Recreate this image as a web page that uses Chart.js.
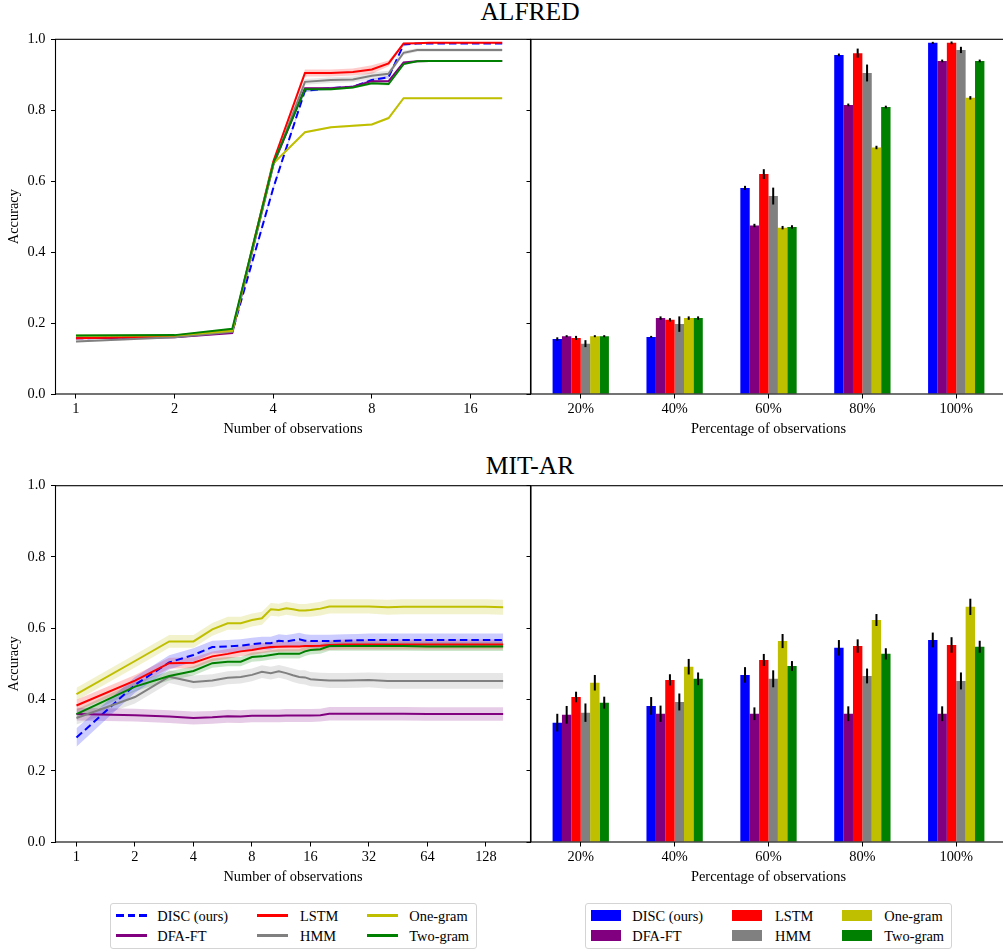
<!DOCTYPE html>
<html><head><meta charset="utf-8">
<script src="https://cdn.jsdelivr.net/npm/chart.js@4"></script>
<style>
html,body{margin:0;padding:0;background:#fff;overflow:hidden}
#wrap{position:relative;width:1003px;height:951px;overflow:hidden;font-family:'Liberation Serif','Times New Roman',serif;color:#000;background:#fff}
canvas{position:absolute}
.title{position:absolute;width:400px;left:330px;text-align:center;font-size:25.5px;line-height:1;white-space:nowrap}
.legend{position:absolute;top:903px;width:367px;height:46px;border:1px solid #d4d4d4;border-radius:3px;box-sizing:border-box;background:#fff}
.lt{position:absolute;font-size:14.4px;line-height:16px;white-space:nowrap}
</style>
</head><body>
<div id="wrap">
  <div class="title" style="top:-1.4px">ALFRED</div>
  <div class="title" style="top:452.9px">MIT-AR</div>
  <canvas id="c1" width="531" height="445" style="left:0;top:0"></canvas>
  <canvas id="c2" width="540" height="445" style="left:470px;top:0"></canvas>
  <canvas id="c3" width="531" height="447" style="left:0;top:446px"></canvas>
  <canvas id="c4" width="540" height="447" style="left:470px;top:446px"></canvas>
  <div class="legend" id="leg1" style="left:110px"></div>
  <div class="legend" id="leg2" style="left:585px"></div>
</div>
<script>
// ---------------- data ----------------
const seriesNames = ['DISC (ours)', 'DFA-FT', 'LSTM', 'HMM', 'One-gram', 'Two-gram'];
const seriesColors = ['#0000ff', '#800080', '#ff0000', '#808080', '#bfbf00', '#008000'];
const yTickValues = [0, 0.2, 0.4, 0.6, 0.8, 1.0];
const pctLabels = ['20%', '40%', '60%', '80%', '100%'];

// ALFRED: accuracy vs number of observations
const alfredX = [1,2,3,4,5,6,7,8,9,10,11,12,13,14,15,16,17,18,19,20];
const alfredXTicks = [1, 2, 4, 8, 16];
const alfredDisc = [0.157,0.161,0.175,0.580,0.855,0.862,0.866,0.885,0.893,0.985,0.988,0.988,0.988,0.988,0.988,0.988,0.988,0.988,0.988,0.988];
const alfredDfa  = [0.157,0.160,0.172,0.645,0.862,0.862,0.866,0.882,0.882,0.935,0.938,0.939,0.939,0.939,0.939,0.939,0.939,0.939,0.939,0.939];
const alfredLstm = [0.157,0.163,0.178,0.655,0.905,0.905,0.908,0.915,0.932,0.988,0.989,0.990,0.990,0.990,0.990,0.990,0.990,0.990,0.990,0.990];
const alfredHmm  = [0.148,0.160,0.175,0.645,0.880,0.885,0.887,0.897,0.903,0.962,0.970,0.970,0.970,0.970,0.970,0.970,0.970,0.970,0.970,0.970];
const alfredOne  = [0.164,0.165,0.178,0.650,0.738,0.752,0.756,0.760,0.778,0.834,0.834,0.834,0.834,0.834,0.834,0.834,0.834,0.834,0.834,0.834];
const alfredTwo  = [0.165,0.166,0.184,0.650,0.859,0.859,0.864,0.876,0.874,0.930,0.938,0.939,0.939,0.939,0.939,0.939,0.939,0.939,0.939,0.939];
const alfredDiscStd = [0.002,0.002,0.002,0.006,0.004,0.004,0.004,0.004,0.004,0.002,0.001,0.001,0.001,0.001,0.001,0.001,0.001,0.001,0.001,0.001];
const alfredDfaStd  = [0.002,0.002,0.002,0.004,0.003,0.003,0.003,0.003,0.003,0.002,0.001,0.001,0.001,0.001,0.001,0.001,0.001,0.001,0.001,0.001];
const alfredLstmStd = [0.002,0.002,0.002,0.006,0.010,0.010,0.010,0.012,0.008,0.002,0.001,0.001,0.001,0.001,0.001,0.001,0.001,0.001,0.001,0.001];
const alfredHmmStd  = [0.003,0.003,0.003,0.006,0.008,0.008,0.008,0.010,0.008,0.006,0.005,0.005,0.005,0.005,0.005,0.005,0.005,0.005,0.005,0.005];
const alfredOneStd  = [0.002,0.002,0.002,0.004,0.003,0.003,0.003,0.003,0.003,0.002,0.001,0.001,0.001,0.001,0.001,0.001,0.001,0.001,0.001,0.001];
const alfredTwoStd  = [0.002,0.002,0.002,0.004,0.003,0.003,0.003,0.004,0.004,0.002,0.001,0.001,0.001,0.001,0.001,0.001,0.001,0.001,0.001,0.001];

// MIT-AR: accuracy vs number of observations
const mitX = [1,2,3,4,5,6,7,8,9,10,11,12,13,14,15,16,18,20,24,28,32,40,48,64,96,128,157];
const mitXTicks = [1, 2, 4, 8, 16, 32, 64, 128];
const mitDisc = [0.293,0.441,0.504,0.525,0.547,0.549,0.551,0.555,0.558,0.558,0.565,0.563,0.566,0.569,0.565,0.564,0.564,0.564,0.565,0.566,0.567,0.567,0.567,0.567,0.567,0.567,0.567];
const mitDfa  = [0.359,0.356,0.352,0.348,0.350,0.353,0.352,0.354,0.354,0.354,0.354,0.355,0.355,0.355,0.355,0.355,0.356,0.360,0.360,0.360,0.360,0.360,0.360,0.359,0.359,0.359,0.359];
const mitLstm = [0.383,0.453,0.502,0.503,0.521,0.528,0.535,0.539,0.544,0.547,0.548,0.549,0.549,0.549,0.550,0.550,0.551,0.553,0.554,0.554,0.554,0.554,0.554,0.554,0.554,0.554,0.554];
const mitHmm  = [0.348,0.407,0.464,0.449,0.453,0.461,0.463,0.469,0.478,0.474,0.479,0.474,0.468,0.463,0.462,0.457,0.455,0.453,0.453,0.454,0.455,0.452,0.452,0.452,0.452,0.452,0.452];
const mitOne  = [0.415,0.508,0.563,0.563,0.597,0.614,0.614,0.623,0.628,0.653,0.651,0.656,0.653,0.650,0.650,0.651,0.655,0.661,0.661,0.661,0.661,0.659,0.660,0.660,0.660,0.660,0.659];
const mitTwo  = [0.359,0.436,0.466,0.480,0.502,0.506,0.506,0.519,0.521,0.525,0.528,0.528,0.528,0.528,0.535,0.539,0.541,0.550,0.550,0.550,0.550,0.550,0.550,0.549,0.549,0.549,0.549];
const mitDiscStd = [0.026,0.022,0.020,0.019,0.018,0.018,0.018,0.018,0.018,0.018,0.018,0.018,0.018,0.018,0.018,0.018,0.018,0.018,0.018,0.018,0.018,0.018,0.018,0.018,0.018,0.018,0.018];
const mitDfaStd  = [0.018,0.018,0.018,0.018,0.018,0.018,0.018,0.018,0.018,0.018,0.018,0.018,0.018,0.018,0.018,0.018,0.018,0.019,0.019,0.019,0.019,0.019,0.019,0.019,0.019,0.019,0.019];
const mitLstmStd = [0.016,0.016,0.015,0.015,0.014,0.014,0.014,0.014,0.014,0.014,0.014,0.014,0.014,0.014,0.014,0.014,0.014,0.014,0.014,0.014,0.014,0.014,0.014,0.014,0.014,0.014,0.014];
const mitHmmStd  = [0.018,0.018,0.018,0.018,0.018,0.018,0.018,0.018,0.018,0.018,0.018,0.018,0.019,0.019,0.020,0.020,0.020,0.021,0.021,0.021,0.021,0.022,0.022,0.022,0.022,0.022,0.022];
const mitOneStd  = [0.018,0.018,0.018,0.018,0.018,0.018,0.018,0.018,0.018,0.018,0.018,0.018,0.018,0.018,0.018,0.019,0.019,0.020,0.020,0.020,0.020,0.021,0.021,0.021,0.021,0.021,0.021];
const mitTwoStd  = [0.013,0.013,0.013,0.013,0.013,0.013,0.013,0.013,0.013,0.013,0.013,0.013,0.013,0.013,0.013,0.013,0.013,0.013,0.013,0.013,0.013,0.013,0.013,0.013,0.013,0.013,0.013];

// Bar charts: accuracy vs percentage of observations (positions 0..4 = 20%..100%)
const pctX = [0, 1, 2, 3, 4];
const alfredBarDisc = [0.155, 0.161, 0.581, 0.956, 0.990];
const alfredBarDfa  = [0.163, 0.214, 0.475, 0.815, 0.939];
const alfredBarLstm = [0.158, 0.209, 0.620, 0.961, 0.990];
const alfredBarHmm  = [0.142, 0.197, 0.558, 0.905, 0.970];
const alfredBarOne  = [0.163, 0.214, 0.469, 0.695, 0.835];
const alfredBarTwo  = [0.163, 0.214, 0.471, 0.809, 0.939];
const alfredErrDisc = [0.002, 0.000, 0.003, 0.001, 0.000];
const alfredErrDfa  = [0.000, 0.002, 0.002, 0.001, 0.001];
const alfredErrLstm = [0.003, 0.002, 0.011, 0.010, 0.001];
const alfredErrHmm  = [0.007, 0.019, 0.021, 0.021, 0.006];
const alfredErrOne  = [0.000, 0.002, 0.002, 0.002, 0.002];
const alfredErrTwo  = [0.000, 0.002, 0.002, 0.001, 0.001];

const mitBarDisc = [0.335, 0.382, 0.469, 0.545, 0.567];
const mitBarDfa  = [0.357, 0.360, 0.360, 0.360, 0.360];
const mitBarLstm = [0.407, 0.455, 0.511, 0.550, 0.553];
const mitBarHmm  = [0.363, 0.393, 0.458, 0.466, 0.452];
const mitBarOne  = [0.447, 0.492, 0.564, 0.623, 0.660];
const mitBarTwo  = [0.391, 0.458, 0.494, 0.528, 0.548];
const mitErrDisc = [0.022, 0.022, 0.019, 0.019, 0.018];
const mitErrDfa  = [0.022, 0.020, 0.015, 0.018, 0.018];
const mitErrLstm = [0.012, 0.013, 0.014, 0.016, 0.019];
const mitErrHmm  = [0.023, 0.021, 0.021, 0.018, 0.021];
const mitErrOne  = [0.019, 0.019, 0.017, 0.014, 0.020];
const mitErrTwo  = [0.014, 0.015, 0.011, 0.013, 0.014];

// ---------------- rendering ----------------
Chart.defaults.font.family = "'Liberation Serif', 'Times New Roman', serif";
Chart.defaults.font.size = 14.4;
Chart.defaults.color = '#000';

function rgba(hex, a) {
  const n = parseInt(hex.slice(1), 16);
  return `rgba(${(n >> 16) & 255},${(n >> 8) & 255},${n & 255},${a})`;
}

const framePlugin = {
  id: 'frame',
  afterDatasetsDraw(chart) {
    const {ctx, chartArea: a} = chart;
    ctx.save();
    ctx.strokeStyle = '#000';
    ctx.lineWidth = 1.1;
    ctx.strokeRect(a.left, a.top, a.right - a.left, a.bottom - a.top);
    ctx.restore();
  }
};

function yScale(showLabels, axisWidth) {
  return {
    type: 'linear', min: 0, max: 1,
    afterBuildTicks: ax => { ax.ticks = yTickValues.map(v => ({value: v})); },
    afterFit: ax => { ax.width = axisWidth; },
    ticks: {display: showLabels, callback: v => Number(v).toFixed(1), padding: 5.5, color: '#000'},
    grid: {display: true, drawOnChartArea: false, drawTicks: true, tickLength: 4.5, color: '#000', tickWidth: 1},
    border: {display: false},
    title: {display: showLabels, text: 'Accuracy', color: '#000', padding: {top: 5.3, bottom: 0}}
  };
}

function xTitle(text) {
  return {display: true, text, color: '#000', padding: {top: 0, bottom: 7.3}};
}

function lineChart(id, xs, means, stds, xTicks, xMin, xMax, padTop) {
  const datasets = [];
  means.forEach((m, i) => {
    const s = stds[i];
    datasets.push({data: xs.map((x, k) => ({x, y: m[k] + s[k]})), borderWidth: 0, pointRadius: 0,
      fill: false, order: 100 + i, backgroundColor: rgba(seriesColors[i], 0.2), borderColor: 'transparent'});
    datasets.push({data: xs.map((x, k) => ({x, y: m[k] - s[k]})), borderWidth: 0, pointRadius: 0,
      fill: '-1', order: 100 + i, backgroundColor: rgba(seriesColors[i], 0.2), borderColor: 'transparent'});
  });
  means.forEach((m, i) => {
    datasets.push({data: xs.map((x, k) => ({x, y: m[k]})), borderColor: seriesColors[i], borderWidth: 2,
      pointRadius: 0, fill: false, tension: 0, borderDash: i === 0 ? [7.5, 4] : [], order: 10 - i});
  });
  new Chart(document.getElementById(id), {
    type: 'line',
    data: {datasets},
    options: {
      responsive: false, animation: false, devicePixelRatio: 1,
      layout: {padding: {top: padTop, right: 0.5, left: 0, bottom: 0}},
      plugins: {legend: {display: false}, tooltip: {enabled: false}},
      scales: {
        x: {
          type: 'logarithmic', min: xMin, max: xMax, offset: false,
          afterBuildTicks: ax => { ax.ticks = xTicks.map(v => ({value: v})); },
          afterFit: ax => { ax.height = 51; },
          ticks: {callback: v => String(v), padding: 2, maxRotation: 0, autoSkip: false, color: '#000'},
          grid: {display: true, drawOnChartArea: false, drawTicks: true, tickLength: 4.5, color: '#000', tickWidth: 1, offset: false},
          border: {display: false},
          title: xTitle('Number of observations')
        },
        y: yScale(true, 55.5)
      }
    },
    plugins: [framePlugin]
  });
}

function barChart(id, vals, errs, padTop) {
  const datasets = vals.map((v, i) => ({
    data: pctX.map((x, k) => ({x, y: v[k]})),
    backgroundColor: seriesColors[i], borderWidth: 0,
    categoryPercentage: 0.6, barPercentage: 1.0
  }));
  const errPlugin = {
    id: 'errbars',
    afterDatasetsDraw(chart) {
      const {ctx} = chart;
      const ys = chart.scales.y;
      ctx.save();
      ctx.strokeStyle = '#000';
      ctx.lineWidth = 2;
      ctx.lineCap = 'square';
      chart.data.datasets.forEach((ds, i) => {
        const meta = chart.getDatasetMeta(i);
        meta.data.forEach((bar, j) => {
          const v = ds.data[j].y, e = errs[i][j];
          ctx.beginPath();
          ctx.moveTo(bar.x, ys.getPixelForValue(v - e));
          ctx.lineTo(bar.x, ys.getPixelForValue(v + e));
          ctx.stroke();
        });
      });
      ctx.restore();
    }
  };
  new Chart(document.getElementById(id), {
    type: 'bar',
    data: {datasets},
    options: {
      responsive: false, animation: false, devicePixelRatio: 1,
      layout: {padding: {top: padTop, right: 4, left: 0, bottom: 0}},
      plugins: {legend: {display: false}, tooltip: {enabled: false}},
      scales: {
        x: {
          type: 'linear', min: -0.53, max: 4.53, offset: false,
          afterBuildTicks: ax => { ax.ticks = pctX.map(v => ({value: v})); },
          afterFit: ax => { ax.height = 51; },
          ticks: {callback: v => pctLabels[Math.round(v)], padding: 2, maxRotation: 0, autoSkip: false, color: '#000'},
          grid: {display: true, drawOnChartArea: false, drawTicks: true, tickLength: 4.5, color: '#000', tickWidth: 1, offset: false},
          border: {display: false},
          title: xTitle('Percentage of observations')
        },
        y: yScale(false, 61)
      }
    },
    plugins: [errPlugin, framePlugin]
  });
}

lineChart('c1', alfredX,
  [alfredDisc, alfredDfa, alfredLstm, alfredHmm, alfredOne, alfredTwo],
  [alfredDiscStd, alfredDfaStd, alfredLstmStd, alfredHmmStd, alfredOneStd, alfredTwoStd],
  alfredXTicks, 0.866, 24.4, 39.3);
barChart('c2',
  [alfredBarDisc, alfredBarDfa, alfredBarLstm, alfredBarHmm, alfredBarOne, alfredBarTwo],
  [alfredErrDisc, alfredErrDfa, alfredErrLstm, alfredErrHmm, alfredErrOne, alfredErrTwo], 39.3);
lineChart('c3', mitX,
  [mitDisc, mitDfa, mitLstm, mitHmm, mitOne, mitTwo],
  [mitDiscStd, mitDfaStd, mitLstmStd, mitHmmStd, mitOneStd, mitTwoStd],
  mitXTicks, 0.78, 217, 39.7);
barChart('c4',
  [mitBarDisc, mitBarDfa, mitBarLstm, mitBarHmm, mitBarOne, mitBarTwo],
  [mitErrDisc, mitErrDfa, mitErrLstm, mitErrHmm, mitErrOne, mitErrTwo], 39.7);

// legends
function buildLegend(el, kind) {
  const cols = [{h: 4.7, t: 46.3}, {h: 146.3, t: 189}, {h: 256.3, t: 298.3}];
  const rows = [11.7, 31.7];
  seriesNames.forEach((name, i) => {
    const c = cols[Math.floor(i / 2)], r = rows[i % 2];
    const h = document.createElement('div');
    h.style.position = 'absolute';
    h.style.left = c.h + 'px';
    if (kind === 'line') {
      h.style.top = (r - 1.25) + 'px';
      h.style.width = '31px';
      h.style.height = '2.5px';
      h.style.background = i === 0
        ? `repeating-linear-gradient(90deg, ${seriesColors[i]} 0 7.5px, transparent 7.5px 11.5px)`
        : seriesColors[i];
    } else {
      h.style.top = (r - 5.5) + 'px';
      h.style.width = '30px';
      h.style.height = '11px';
      h.style.background = seriesColors[i];
    }
    el.appendChild(h);
    const t = document.createElement('div');
    t.className = 'lt';
    t.textContent = name;
    t.style.left = c.t + 'px';
    t.style.top = (r - 8) + 'px';
    el.appendChild(t);
  });
}
buildLegend(document.getElementById('leg1'), 'line');
buildLegend(document.getElementById('leg2'), 'bar');
</script>
</body></html>
